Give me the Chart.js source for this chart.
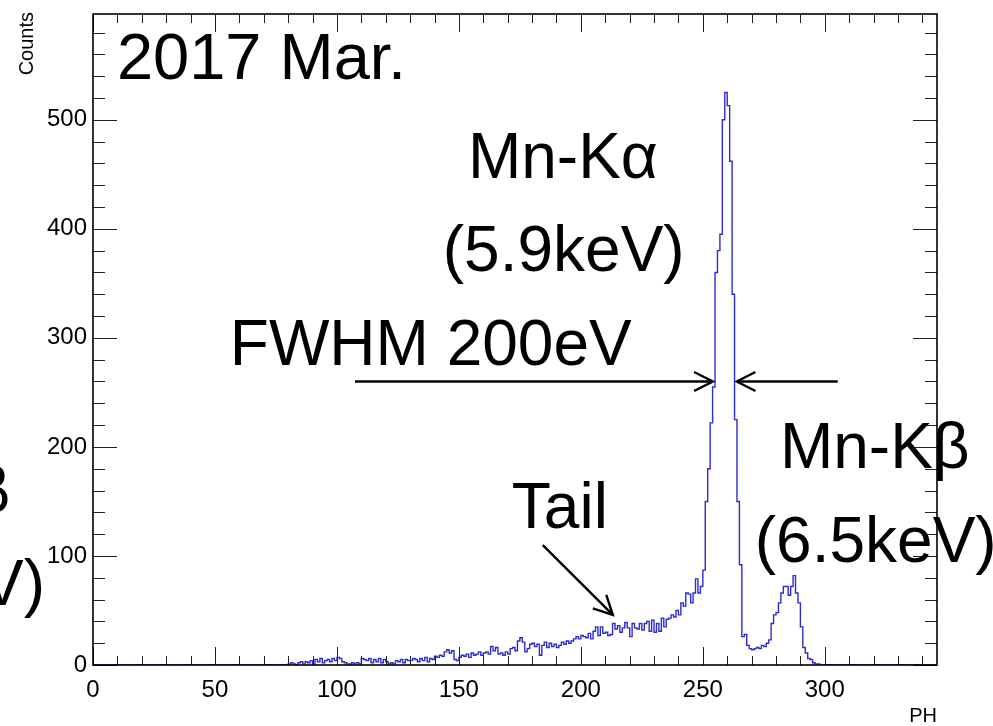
<!DOCTYPE html>
<html><head><meta charset="utf-8">
<script src="https://cdn.jsdelivr.net/npm/chart.js@4"></script>
<style>html,body{margin:0;padding:0;background:#fff;} canvas{display:block;}</style>
</head><body>
<canvas id="c" width="993" height="726"></canvas>
<script>
// ---- data ----
const binStart = 0;
const binWidth = 1;
const counts = [
  0,0,0,0,0,0,0,0,0,0,
  0,0,0,0,0,0,0,0,0,0,
  0,0,0,0,0,0,0,0,0,0,
  0,0,0,0,0,0,0,0,0,0,
  0,0,0,0,0,0,0,0,0,0,
  0,0,0,0,0,0,0,0,0,0,
  0,0,0,0,0,0,0,0,0,0,
  0,0,0,0,0,0,0,0,0,0,
  1,2,1,0,2,3,1,3,2,4,
  1,5,3,6,2,4,5,3,6,4,
  7,6,3,2,1,1,2,1,2,1,
  6,5,4,6,2,5,3,6,2,5,
  3,1,2,1,4,3,5,2,5,4,
  4,6,5,3,6,4,7,3,6,5,
  8,7,9,8,12,14,11,13,5,4,
  7,9,8,10,7,11,9,10,12,9,
  11,12,10,17,13,16,10,11,9,12,
  10,15,16,13,22,25,21,12,15,19,
  20,17,19,9,18,21,16,20,17,19,
  16,18,21,19,22,20,22,24,26,24,
  27,26,25,29,24,31,35,27,35,29,
  30,27,28,38,33,36,30,34,39,34,
  26,38,34,33,38,32,38,40,31,41,
  30,38,31,43,35,42,43,46,44,50,
  46,57,54,66,65,57,66,79,66,72,
  87,150,180,222,255,360,380,395,500,525,
  513,462,340,225,150,92,26,28,18,15,
  14,15,16,15,18,17,20,23,38,46,
  48,57,66,72,72,64,72,82,66,57,
  35,16,11,6,5,2,1,1,0,0,
  0,0,0,0,0,0,0,0,0,0,
  0,0,0,0,0,0,0,0,0,0,
  0,0,0,0,0,0,0,0,0,0,
  0,0,0,0,0,0,0,0,0,0,
  0,0,0,0,0,0
];
const xRange = [0, 346];
const yRange = [0, 597];
const xTickValues = [0, 50, 100, 150, 200, 250, 300];
const yTickValues = [0, 100, 200, 300, 400, 500];
const xMajorStep = 50, xMinorStep = 10;
const yMajorStep = 100, yMinorStep = 20;
const xTitle = 'PH';
const yTitle = 'Counts';

// annotation texts
const periodText = '2017 Mar.';
const kaLines = ['Mn-K\u03b1', '(5.9keV)'];
const kbLines = ['Mn-K\u03b2', '(6.5keV)'];
const fwhmText = 'FWHM 200eV';
const tailText = 'Tail';

// ---- build histogram points ----
const pts = counts.map((c, i) => ({x: binStart + i * binWidth, y: c}));
pts.push({x: binStart + counts.length * binWidth, y: counts[counts.length - 1]});

const FONT = '"Liberation Sans", Arial, Helvetica, sans-serif';

function seg(ctx, x1, y1, x2, y2) { ctx.beginPath(); ctx.moveTo(x1, y1); ctx.lineTo(x2, y2); ctx.stroke(); }
function arrow(ctx, x1, y1, x2, y2) {
  const ang = Math.atan2(y2 - y1, x2 - x1), L = 21, w = 0.47;
  seg(ctx, x1, y1, x2, y2);
  ctx.beginPath();
  ctx.moveTo(x2 - L * Math.cos(ang - w), y2 - L * Math.sin(ang - w));
  ctx.lineTo(x2, y2);
  ctx.lineTo(x2 - L * Math.cos(ang + w), y2 - L * Math.sin(ang + w));
  ctx.stroke();
}

const rootStyle = {
  id: 'rootStyle',
  afterDraw(chart) {
    const {ctx, chartArea: a, scales: {x, y}} = chart;
    const X = v => x.getPixelForValue(v), Y = v => y.getPixelForValue(v);
    ctx.save();
    // ticks (inward, both sides)
    ctx.strokeStyle = '#222'; ctx.lineWidth = 1;
    for (let v = xRange[0]; v <= xRange[1]; v += xMinorStep) {
      const px = Math.round(X(v)) + 0.5;
      const len = v % xMajorStep === 0 ? 18 : 9;
      seg(ctx, px, a.bottom, px, a.bottom - len);
      seg(ctx, px, a.top, px, a.top + len);
    }
    for (let v = yRange[0]; v <= yRange[1]; v += yMinorStep) {
      const py = Math.round(Y(v)) + 0.5;
      const len = v % yMajorStep === 0 ? 24 : 12;
      seg(ctx, a.left, py, a.left + len, py);
      seg(ctx, a.right, py, a.right - len, py);
    }
    // frame
    ctx.strokeStyle = '#000'; ctx.lineWidth = 1.6;
    ctx.strokeRect(a.left, a.top, a.right - a.left, a.bottom - a.top);

    // axis titles
    ctx.fillStyle = '#000';
    ctx.font = '20px ' + FONT;
    ctx.textAlign = 'right'; ctx.textBaseline = 'alphabetic';
    ctx.fillText(xTitle, a.right, a.bottom + 57);
    ctx.save();
    ctx.translate(a.left - 60, a.top - 2);
    ctx.rotate(-Math.PI / 2);
    ctx.textAlign = 'right';
    ctx.fillText(yTitle, 0, 0);
    ctx.restore();

    // big annotations
    ctx.textAlign = 'left';
    ctx.font = '65px ' + FONT;
    ctx.fillText(periodText, X(9.8), Y(537));
    ctx.font = '64px ' + FONT;
    ctx.fillText(kaLines[0], X(153.7), Y(447));
    ctx.fillText(kaLines[1], X(143.4), Y(361));
    ctx.fillText(fwhmText, X(56.1), Y(275));
    ctx.fillText(kbLines[0], X(281.6), Y(181));
    ctx.fillText(kbLines[1], X(271.3), Y(94.5));
    ctx.fillText(tailText, X(171.7), Y(126));
    // cut-off labels from neighbouring panel
    ctx.textAlign = 'right';
    ctx.fillText(kbLines[0], X(-34), Y(140));
    ctx.fillText(kbLines[1], X(-19.7), Y(55));

    // arrows
    ctx.strokeStyle = '#000'; ctx.lineWidth = 2.4; ctx.lineCap = 'butt';
    arrow(ctx, X(107.4), Y(260), X(254.1), Y(260));
    arrow(ctx, X(305.3), Y(260), X(263.9), Y(260));
    arrow(ctx, X(184.4), Y(110), X(213.1), Y(46));
    ctx.restore();
  }
};

new Chart(document.getElementById('c'), {
  type: 'line',
  data: {
    datasets: [{
      data: pts,
      stepped: true,
      borderColor: 'rgb(45,45,205)',
      borderWidth: 1.4,
      pointRadius: 0,
      fill: false,
      tension: 0
    }]
  },
  options: {
    responsive: false,
    animation: false,
    layout: {padding: {left: 0, right: 56, top: 14, bottom: 0}},
    plugins: {legend: {display: false}, tooltip: {enabled: false}},
    scales: {
      x: {
        type: 'linear', min: xRange[0], max: xRange[1],
        afterFit: s => { s.height = 61; s.paddingLeft = 0; s.paddingRight = 0; },
        afterBuildTicks: s => { s.ticks = xTickValues.map(v => ({value: v})); },
        grid: {display: false, drawTicks: false},
        border: {display: false},
        ticks: {padding: 11, maxRotation: 0, autoSkip: false,
                color: '#000', font: {family: FONT, size: 24}}
      },
      y: {
        type: 'linear', min: yRange[0], max: yRange[1],
        afterFit: s => { s.width = 93; s.paddingTop = 0; s.paddingBottom = 0; },
        afterBuildTicks: s => { s.ticks = yTickValues.map(v => ({value: v})); },
        grid: {display: false, drawTicks: false},
        border: {display: false},
        ticks: {padding: 6, autoSkip: false,
                color: '#000', font: {family: FONT, size: 24}}
      }
    }
  },
  plugins: [rootStyle]
});
</script>
</body></html>
